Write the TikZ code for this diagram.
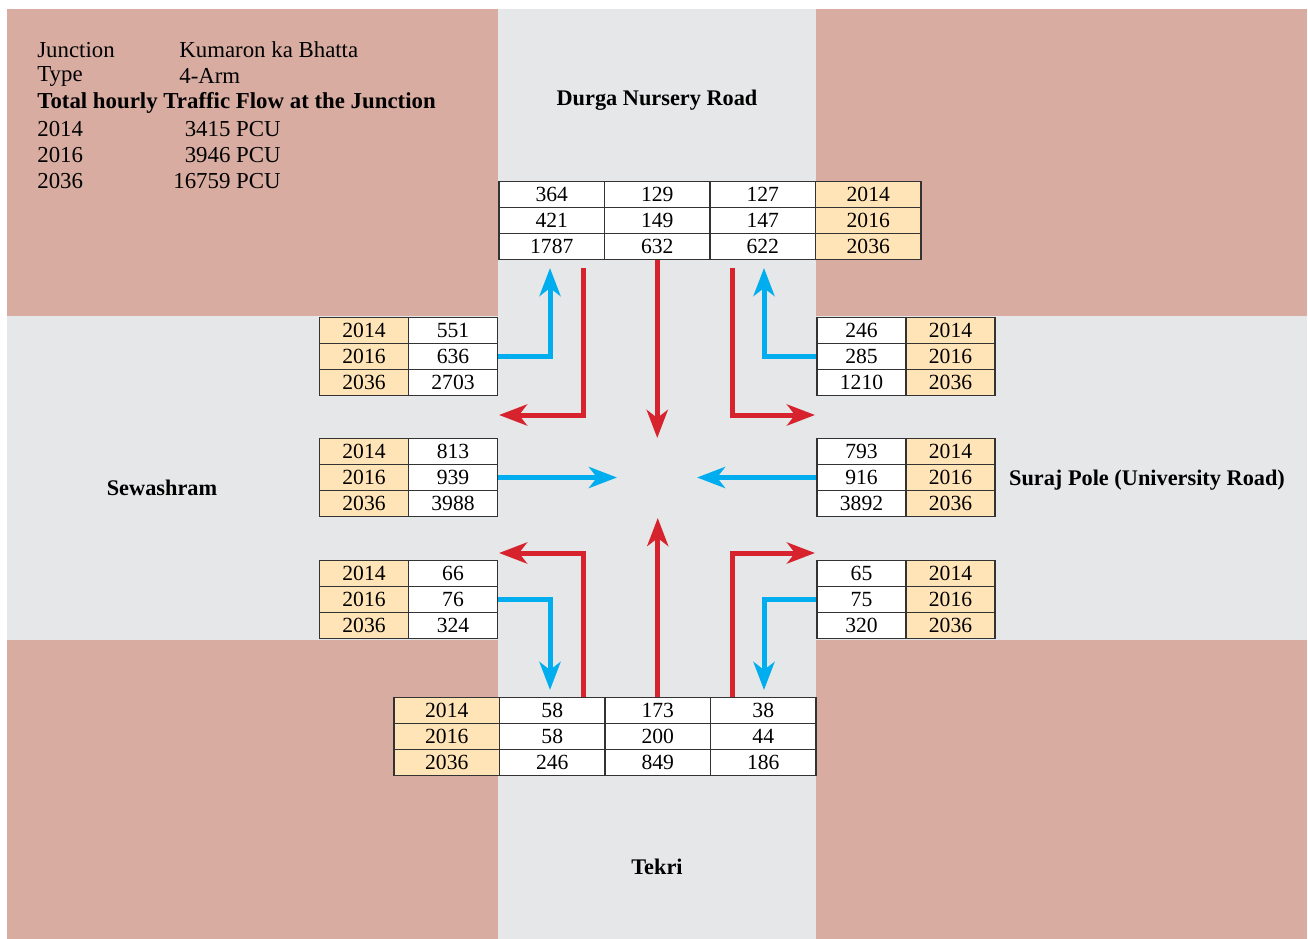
\documentclass[tikz,border=0pt]{standalone}
\usepackage{fontspec}
\setmainfont{Liberation Serif}
\usetikzlibrary{arrows.meta}

\definecolor{plot}{HTML}{D8ACA1}
\definecolor{road}{HTML}{E6E7E8}
\definecolor{yrfill}{HTML}{FFE4B8}
\definecolor{flowred}{HTML}{D7232D}
\definecolor{flowblue}{HTML}{00AEEF}

\tikzset{
  cell/.style={draw=black!80, line width=0.8pt, fill=white, minimum width=1.78cm,
    minimum height=0.52cm, inner sep=0pt, font=\fontsize{12.3}{14}\selectfont},
  yr/.style={cell, fill=yrfill},
  wide/.style={minimum width=2.11cm},
  inflow/.style={flowblue, line width=0.1cm, -{Stealth[length=0.56cm, width=0.42cm, inset=0.16cm]}},
  outflow/.style={flowred, line width=0.1cm, -{Stealth[length=0.56cm, width=0.42cm, inset=0.16cm]}},
  roadname/.style={font=\fontsize{12.7}{14}\selectfont\bfseries},
  info/.style={inner sep=0pt, font=\fontsize{13}{15}\selectfont},
}

\begin{document}
\begin{tikzpicture}[x=0.02cm, y=-0.02cm]
    % ground and roads
    \fill[white] (0,0) rectangle (1308,939);
    \fill[plot] (7,9) rectangle (1307,939);
    \fill[road] (498,9) rectangle (816,939);
    \fill[road] (7,316) rectangle (1307,640);

    % Junction data
    \node[info, anchor=west] (jn) at (37,50) {Junction};
    \node[info, anchor=west] (jnv) at (179,50) {Kumaron ka Bhatta};
    \node[info, anchor=west] (ty) at (37,76) {Type};
    \node[info, anchor=west] (tyv) at (179,76) {4-Arm};
    \node[info, anchor=west, font=\fontsize{13}{15}\selectfont\bfseries] (tot) at (37,103) {Total hourly Traffic Flow at the Junction};
    \node[info, anchor=west] (y14) at (37,129) {2014};
    \node[info, anchor=east] (p14) at (281,129) {3415 PCU};
    \node[info, anchor=west] (y16) at (37,155) {2016};
    \node[info, anchor=east] (p16) at (281,155) {3946 PCU};
    \node[info, anchor=west] (y36) at (37,181) {2036};
    \node[info, anchor=east] (p36) at (281,181) {16759 PCU};

    % Road names
    \node[roadname] (durga) at (657,100) {Durga Nursery Road};
    \node[roadname] (sewa) at (162,488) {Sewashram};
    \node[roadname] (suraj) at (1147,480) {Suraj Pole (University Road)};
    \node[roadname] (tekri) at (657,867) {Tekri};

    % North arm
    \foreach \y/\a/\b/\c [count=\i] in {2014/364/129/127, 2016/421/149/147, 2036/1787/632/622} {
        \node[cell, wide] (n\i-1) at (551.75,168.5+26*\i) {\a};
        \node[cell, wide] (n\i-2) at (657.25,168.5+26*\i) {\b};
        \node[cell, wide] (n\i-3) at (762.75,168.5+26*\i) {\c};
        \node[yr, wide] (n\i-4) at (868.25,168.5+26*\i) {\y};
    }

    % South arm
    \foreach \y/\a/\b/\c [count=\i] in {2014/58/173/38, 2016/58/200/44, 2036/246/849/186} {
        \node[yr, wide] (s\i-1) at (446.75,684.5+26*\i) {\y};
        \node[cell, wide] (s\i-2) at (552.25,684.5+26*\i) {\a};
        \node[cell, wide] (s\i-3) at (657.75,684.5+26*\i) {\b};
        \node[cell, wide] (s\i-4) at (763.25,684.5+26*\i) {\c};
    }

    % West arm
    \foreach \y/\v [count=\i] in {2014/551, 2016/636, 2036/2703} {
        \node[yr] (w1y-\i) at (364,304.5+26*\i) {\y};
        \node[cell] (w1-\i) at (453,304.5+26*\i) {\v};
    }
    \foreach \y/\v [count=\i] in {2014/813, 2016/939, 2036/3988} {
        \node[yr] (w2y-\i) at (364,425.5+26*\i) {\y};
        \node[cell] (w2-\i) at (453,425.5+26*\i) {\v};
    }
    \foreach \y/\v [count=\i] in {2014/66, 2016/76, 2036/324} {
        \node[yr] (w3y-\i) at (364,547.5+26*\i) {\y};
        \node[cell] (w3-\i) at (453,547.5+26*\i) {\v};
    }

    % East arm
    \foreach \y/\v [count=\i] in {2014/246, 2016/285, 2036/1210} {
        \node[cell] (e1-\i) at (861.5,304.5+26*\i) {\v};
        \node[yr] (e1y-\i) at (950.5,304.5+26*\i) {\y};
    }
    \foreach \y/\v [count=\i] in {2014/793, 2016/916, 2036/3892} {
        \node[cell] (e2-\i) at (861.5,425.5+26*\i) {\v};
        \node[yr] (e2y-\i) at (950.5,425.5+26*\i) {\y};
    }
    \foreach \y/\v [count=\i] in {2014/65, 2016/75, 2036/320} {
        \node[cell] (e3-\i) at (861.5,547.5+26*\i) {\v};
        \node[yr] (e3y-\i) at (950.5,547.5+26*\i) {\y};
    }

    % arrow ends
    \coordinate (tipNW) at (550,268);
    \coordinate (tipNE) at (764,268);
    \coordinate (srcNL) at (583,268);
    \coordinate (tipNL) at (499,415);
    \coordinate (tipNC) at (657,438);
    \coordinate (srcNR) at (732,268);
    \coordinate (tipNR) at (815,415);
    \coordinate (tipWC) at (617,478);
    \coordinate (tipEC) at (697,478);
    \coordinate (tipSW) at (550,690);
    \coordinate (tipSE) at (764,690);
    \coordinate (srcSL) at (583,697);
    \coordinate (tipSL) at (499,553);
    \coordinate (tipSC) at (657,518);
    \coordinate (srcSR) at (732,697);
    \coordinate (tipSR) at (815,553);

    % flows
    \draw[inflow] (w1-2.east) -| (tipNW);
    \draw[inflow] (e1-2.west) -| (tipNE);
    \draw[outflow] (srcNL) |- (tipNL);
    \draw[outflow] (n3-2.south) -- (n3-2.south |- tipNC);
    \draw[outflow] (srcNR) |- (tipNR);
    \draw[inflow] (w2-2.east) -- (w2-2.east -| tipWC);
    \draw[inflow] (e2-2.west) -- (e2-2.west -| tipEC);
    \draw[inflow] (w3-2.east) -| (tipSW);
    \draw[inflow] (e3-2.west) -| (tipSE);
    \draw[outflow] (srcSL) |- (tipSL);
    \draw[outflow] (s1-3.north) -- (s1-3.north |- tipSC);
    \draw[outflow] (srcSR) |- (tipSR);
\end{tikzpicture}
\end{document}
